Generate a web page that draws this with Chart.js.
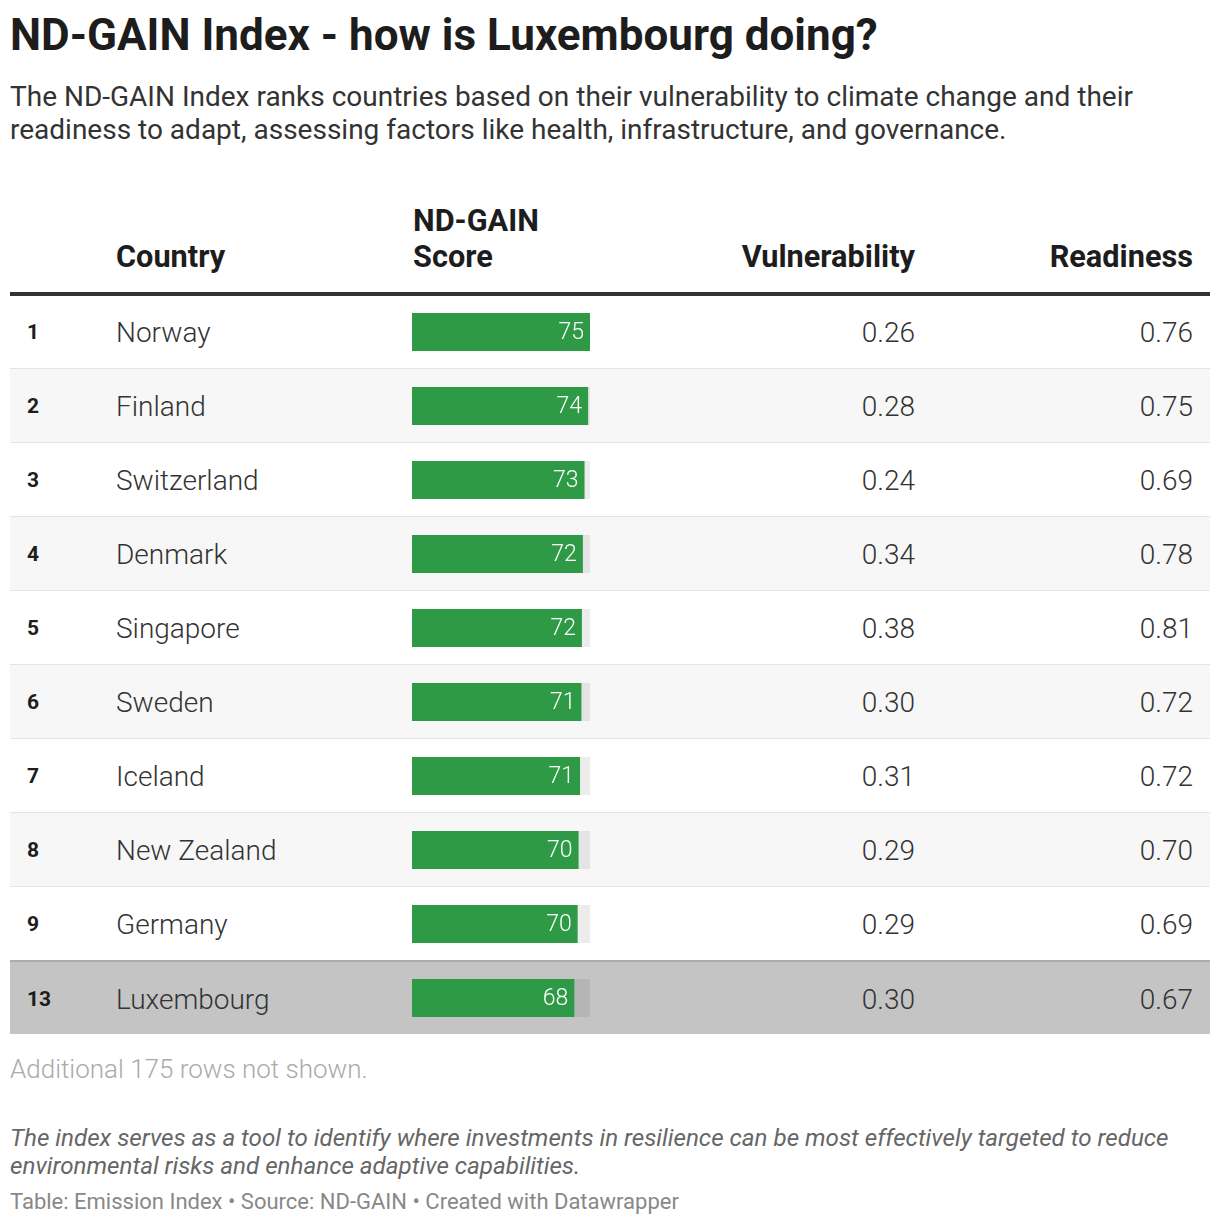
<!DOCTYPE html>
<html>
<head>
<meta charset="utf-8">
<script src="https://cdn.jsdelivr.net/npm/chart.js@4.4.0/dist/chart.umd.min.js"></script>
<style>
  body { margin: 0; background: #fff; font-family: Roboto, "Noto Sans", sans-serif; color: #1d1d1d; }
  #page { position: relative; width: 1220px; height: 1226px; }
  .abs { position: absolute; white-space: nowrap; }
  #title { left: 10px; top: 13px; font-size: 44px; font-weight: 700; line-height: 44px; color: #1d1d1d; }
  #sub { left: 10px; top: 80px; font-size: 28px; font-weight: 400; line-height: 33px; color: #333; white-space: normal; width: 1200px; }
  .th { font-size: 30.7px; font-weight: 700; line-height: 36px; color: #1d1d1d; }
  #headline { left: 10px; top: 292px; width: 1200px; height: 4px; background: #333; }
  .row { position: absolute; left: 10px; width: 1200px; height: 73px; border-bottom: 1px solid #e4e4e4; }
  .row.alt { background: #f7f7f7; }
  .row.hl { background: #c4c4c4; border-top: 2px solid #acacac; height: 72px; border-bottom: none; }
  .cell { position: absolute; top: 0; line-height: 75px; font-size: 28px; font-weight: 300; color: #333; }
  .rank { left: 17px; font-size: 21px; font-weight: 700; color: #1d1d1d; }
  .country { left: 106px; }
  .vul { right: 295px; text-align: right; }
  .rea { right: 17px; text-align: right; }
  #more { left: 10px; top: 1053px; font-size: 26px; font-weight: 300; line-height: 32px; color: #aaa; }
  #note { left: 10px; top: 1124px; font-size: 24.2px; font-style: italic; line-height: 28px; color: #666; white-space: normal; width: 1200px; }
  #foot { left: 10px; top: 1188px; font-size: 22px; line-height: 28px; color: #888; }
  #barbox { position: absolute; left: 412px; top: 295px; width: 178px; height: 740px; }
</style>
</head>
<body>
<div id="page">
  <div id="title" class="abs">ND-GAIN Index - how is Luxembourg doing?</div>
  <div id="sub" class="abs">The ND-GAIN Index ranks countries based on their vulnerability to climate change and their readiness to adapt, assessing factors like health, infrastructure, and governance.</div>

  <div class="abs th" style="left:413px; top:203px;">ND-GAIN<br>Score</div>
  <div class="abs th" style="left:116px; top:239px;">Country</div>
  <div class="abs th" style="right:305px; top:239px;">Vulnerability</div>
  <div class="abs th" style="right:27px; top:239px;">Readiness</div>
  <div id="headline" class="abs"></div>

  <div id="rows"></div>
  <div id="barbox"><canvas id="myChart"></canvas></div>

  <div id="more" class="abs">Additional 175 rows not shown.</div>
  <div id="note" class="abs">The index serves as a tool to identify where investments in resilience can be most effectively targeted to reduce environmental risks and enhance adaptive capabilities.</div>
  <div id="foot" class="abs">Table: Emission Index • Source: ND-GAIN • Created with Datawrapper</div>
</div>

<script>
// table data
var ranks = [1, 2, 3, 4, 5, 6, 7, 8, 9, 13];
var countries = ['Norway', 'Finland', 'Switzerland', 'Denmark', 'Singapore', 'Sweden', 'Iceland', 'New Zealand', 'Germany', 'Luxembourg'];
var scores = [75.0, 74.2, 72.7, 72.0, 71.6, 71.4, 70.8, 70.2, 69.8, 68.4];
var vulnerability = ['0.26', '0.28', '0.24', '0.34', '0.38', '0.30', '0.31', '0.29', '0.29', '0.30'];
var readiness = ['0.76', '0.75', '0.69', '0.78', '0.81', '0.72', '0.72', '0.70', '0.69', '0.67'];

var ROW_TOP = 295;
var ROW_H = 74;
var SCORE_MAX = 75;

// ---------------- rows (text part)
var rowsEl = document.getElementById('rows');
for (var i = 0; i < countries.length; i++) {
    var r = document.createElement('div');
    var cls = 'row';
    if (countries[i] == 'Luxembourg') cls += ' hl';
    else if (i % 2 == 1) cls += ' alt';
    r.className = cls;
    r.style.top = (ROW_TOP + i * ROW_H - (countries[i] == 'Luxembourg' ? 1 : 0)) + 'px';
    r.innerHTML =
        '<div class="cell rank">' + ranks[i] + '</div>' +
        '<div class="cell country">' + countries[i] + '</div>' +
        '<div class="cell vul">' + vulnerability[i] + '</div>' +
        '<div class="cell rea">' + readiness[i] + '</div>';
    rowsEl.appendChild(r);
}

// ---------------- score bars
// grey track behind each bar, full width of the x scale
const trackPlugin = {
    id: 'track',
    beforeDatasetsDraw(chart) {
        const ctx = chart.ctx;
        const area = chart.chartArea;
        ctx.save();
        ctx.fillStyle = 'rgba(0,0,0,0.075)';
        chart.getDatasetMeta(0).data.forEach(function (bar) {
            ctx.fillRect(area.left, bar.y - bar.height / 2, area.right - area.left, bar.height);
        });
        ctx.restore();
    }
};

// white value inside the end of each bar
const valuePlugin = {
    id: 'values',
    afterDatasetsDraw(chart) {
        const ctx = chart.ctx;
        ctx.save();
        ctx.fillStyle = '#ffffff';
        ctx.font = '300 23px Roboto';
        ctx.textAlign = 'right';
        ctx.textBaseline = 'middle';
        chart.getDatasetMeta(0).data.forEach(function (bar, idx) {
            ctx.fillText(Math.round(scores[idx]), bar.x - 6, bar.y + 1);
        });
        ctx.restore();
    }
};

const data = {
    labels: countries,
    datasets: [{
        label: 'ND-GAIN Score',
        backgroundColor: '#2f9a45',
        borderWidth: 0,
        data: scores,
        categoryPercentage: 1,
        barPercentage: 38 / 74
    }]
};

const config = {
    type: 'bar',
    data: data,
    options: {
        indexAxis: 'y',
        responsive: true,
        maintainAspectRatio: false,
        animation: false,
        layout: { padding: 0 },
        plugins: { legend: { display: false }, tooltip: { enabled: false } },
        scales: {
            x: { display: false, min: 0, max: SCORE_MAX },
            y: { display: false }
        }
    },
    plugins: [trackPlugin, valuePlugin]
};

const myChart = new Chart(document.getElementById('myChart'), config);
</script>
</body>
</html>
